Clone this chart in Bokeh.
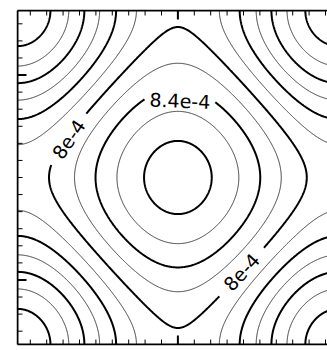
import numpy as np
from bokeh.plotting import figure
from bokeh.plotting.contour import contour_data
from bokeh.models import Range1d, ColumnDataSource
from bokeh.core.properties import value
from bokeh.embed import file_html
from bokeh.resources import INLINE

# ---- field: f = c0 + c1*s + c2*s^2 + c3*s^3, s = cos(x) + w*cos(y)
half_span = 9.78            # data half-width (one period of the field spans 2*half_span)
y_weight = 0.93
coef = [7.937e-4, 0.555e-4, -0.045e-4, 0.00833e-4]

levels = [6.8e-4, 7.0e-4, 7.2e-4, 7.4e-4, 7.6e-4, 7.8e-4,
          8.0e-4, 8.2e-4, 8.4e-4, 8.6e-4, 8.8e-4]
thick_every = 0.4e-4

label_texts = ["8.4e-4", "8e-4", "8e-4"]
label_levels = [8.4e-4, 8.0e-4, 8.0e-4]
label_x = [0.18, -6.77, 3.90]
label_branch = [1, 1, -1]
label_gap_px = [37.5, 31.0, 32.5]

x_major = [0]
y_major = [-6, 6]
minor_ticks = list(range(-9, 10))

# ---- layout (pixels); Bokeh's page template has no body margin
W, H = 327, 350
mb_left, mb_top, mb_bottom = 16, 9, 5
frame_w, frame_h = W - mb_left, H - mb_top - mb_bottom
edge_px = 1.0
px_per_unit_x = 16.4
px_per_unit_y = (frame_h - 2 * edge_px) / (2 * half_span)

x0 = -half_span - edge_px / px_per_unit_x
x1 = x0 + frame_w / px_per_unit_x
y0 = -half_span - edge_px / px_per_unit_y
y1 = half_span + edge_px / px_per_unit_y

# ---- grid
n = 481
xs = np.linspace(-half_span, half_span, n)
ys = np.linspace(-half_span, half_span, n)
X, Y = np.meshgrid(xs, ys)
k = np.pi / half_span

def f_of(s):
    return coef[0] + coef[1] * s + coef[2] * s ** 2 + coef[3] * s ** 3

Z = f_of(np.cos(k * X) + y_weight * np.cos(k * Y))

def is_thick(lv):
    r = lv / thick_every
    return abs(r - round(r)) < 1e-6

# ---- contour lines via Bokeh's contour machinery, split into pieces
cd = contour_data(xs, ys, Z, levels, want_fill=False, want_line=True)

def split_nan(ax, ay):
    ax = np.asarray(ax, dtype=float); ay = np.asarray(ay, dtype=float)
    bad = ~np.isfinite(ax) | ~np.isfinite(ay)
    pieces, start = [], 0
    for i in range(len(ax) + 1):
        if i == len(ax) or bad[i]:
            if i - start >= 2:
                pieces.append((ax[start:i].copy(), ay[start:i].copy()))
            start = i + 1
    return pieces

level_pieces = [split_nan(cd.line_data.xs[i], cd.line_data.ys[i]) for i in range(len(levels))]

def to_px(x, y):
    return (x - x0) * px_per_unit_x, (y - y0) * px_per_unit_y

def s_for_level(lv):
    ss = np.linspace(-2, 2, 40001)
    return ss[np.argmin(np.abs(f_of(ss) - lv))]

lab_x, lab_y, lab_a = [], [], []
for text, lv, xa, br, g in zip(label_texts, label_levels, label_x, label_branch, label_gap_px):
    s_t = s_for_level(lv)
    ya = br * np.arccos(np.clip((s_t - np.cos(k * xa)) / y_weight, -1, 1)) / k
    pxa, pya = to_px(xa, ya)
    li = levels.index(lv)
    best = None
    for pi, (ax, ay) in enumerate(level_pieces[li]):
        qx, qy = to_px(ax, ay)
        d = np.hypot(qx - pxa, qy - pya)
        j = int(np.argmin(d))
        if best is None or d[j] < best[0]:
            best = (d[j], pi, j)
    _, pi, j = best
    ax, ay = level_pieces[li].pop(pi)
    closed = np.hypot(*np.subtract(to_px(ax[0], ay[0]), to_px(ax[-1], ay[-1]))) < 1e-6
    if closed:
        ax, ay = ax[:-1], ay[:-1]
        sh = len(ax) // 2 - j
        ax, ay = np.roll(ax, sh), np.roll(ay, sh)
        j = len(ax) // 2
        ax, ay = np.append(ax, ax[0]), np.append(ay, ay[0])
    qx, qy = to_px(ax, ay)
    d = np.hypot(qx - qx[j], qy - qy[j])
    jf = j
    while jf < len(ax) - 1 and d[jf] < g:
        jf += 1
    jb = j
    while jb > 0 and d[jb] < g:
        jb -= 1
    if closed:
        rest_x = np.concatenate([ax[jf:], ax[1:jb + 1]])
        rest_y = np.concatenate([ay[jf:], ay[1:jb + 1]])
        level_pieces[li].append((rest_x, rest_y))
    else:
        if jb >= 1:
            level_pieces[li].append((ax[:jb + 1], ay[:jb + 1]))
        if jf <= len(ax) - 2:
            level_pieces[li].append((ax[jf:], ay[jf:]))
    lab_x.append(float((ax[jb] + ax[jf]) / 2))
    lab_y.append(float((ay[jb] + ay[jf]) / 2))
    dx, dy = qx[jf] - qx[jb], qy[jf] - qy[jb]
    if dx < 0:
        dx, dy = -dx, -dy
    lab_a.append(float(np.arctan2(dy, dx)))

line_xs, line_ys, line_w, line_c = [], [], [], []
for lv, pieces in zip(levels, level_pieces):
    for ax, ay in pieces:
        line_xs.append(list(ax)); line_ys.append(list(ay))
        line_w.append(2.0 if is_thick(lv) else 1.0)
        line_c.append("black" if is_thick(lv) else "#3a3a3a")

p = figure(width=W, height=H, output_backend="svg", toolbar_location=None,
           x_range=Range1d(x0, x1), y_range=Range1d(y0, y1),
           x_axis_type=None, y_axis_type=None,
           min_border_left=mb_left, min_border_top=mb_top,
           min_border_bottom=mb_bottom, min_border_right=0)
p.outline_line_color = None
p.grid.visible = False
p.background_fill_color = "white"
p.border_fill_color = "white"

p.multi_line(xs="xs", ys="ys", line_color="c", line_width="w",
             source=ColumnDataSource(dict(xs=line_xs, ys=line_ys, c=line_c, w=line_w)))

# ---- frame (left, top, bottom; right side is cut off) and inward ticks
p.segment(x0=[-half_span, -half_span, -half_span], y0=[-half_span, half_span, -half_span],
          x1=[-half_span, x1, x1], y1=[half_span, half_span, -half_span],
          line_color="black", line_width=2)

minor_len, major_len = 5.0, 9.0
def tick_rows(ticks, majors):
    return [(t, major_len if t in majors else minor_len, 2 if t in majors else 1) for t in ticks]

tx0, ty0, tx1, ty1, tw = [], [], [], [], []
for t, ln, w in tick_rows(minor_ticks, x_major):
    tx0.append(t); tx1.append(t); ty0.append(half_span); ty1.append(half_span - ln / px_per_unit_y); tw.append(w)
    tx0.append(t); tx1.append(t); ty0.append(-half_span); ty1.append(-half_span + ln / px_per_unit_y); tw.append(w)
for t, ln, w in tick_rows(minor_ticks, y_major):
    tx0.append(-half_span); tx1.append(-half_span + ln / px_per_unit_x); ty0.append(t); ty1.append(t); tw.append(w)
p.segment(x0=tx0, y0=ty0, x1=tx1, y1=ty1, line_color="black", line_width=tw)

# ---- contour labels in the gaps
src = ColumnDataSource(dict(x=lab_x, y=lab_y, t=label_texts, a=lab_a))
p.text(x="x", y="y", text="t", angle="a", source=src,
       text_font=value("DejaVu Sans"), text_font_size="19px", text_color="black",
       text_align="center", text_baseline="middle")

open("out.html", "w").write(file_html(p, INLINE))
